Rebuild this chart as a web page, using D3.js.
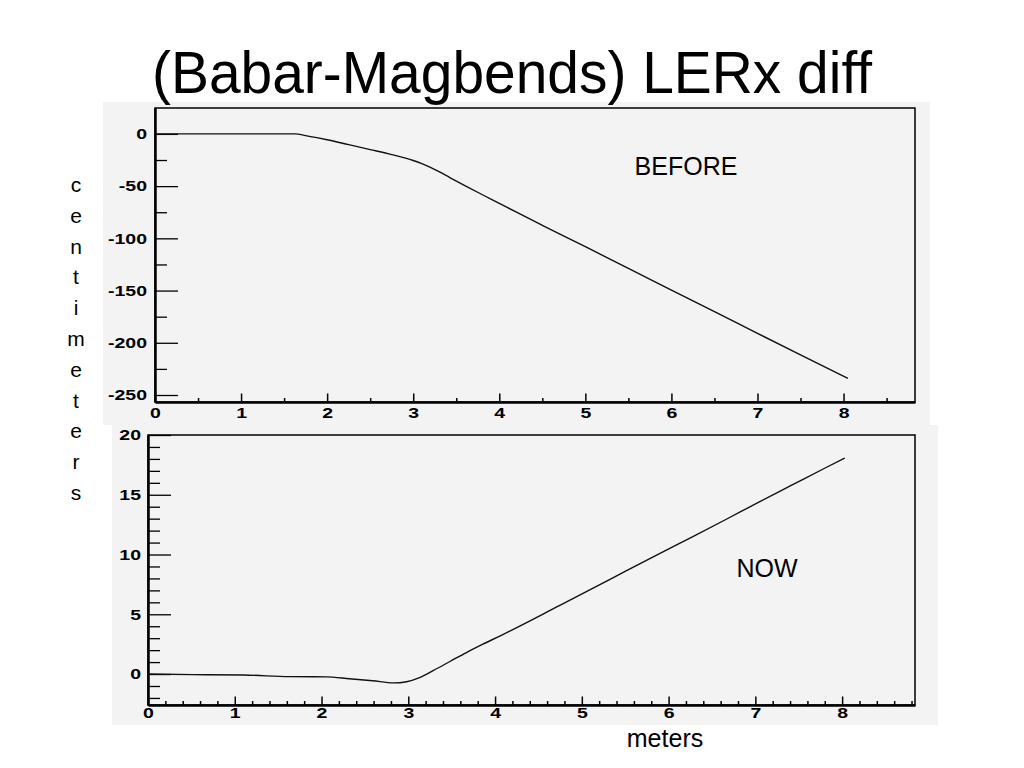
<!DOCTYPE html>
<html>
<head>
<meta charset="utf-8">
<script src="https://cdn.jsdelivr.net/npm/d3@7"></script>
<style>
  html, body { margin: 0; padding: 0; background: #ffffff; }
  svg { display: block; }
  text { font-family: "Liberation Sans", Arial, Helvetica, sans-serif; }
</style>
</head>
<body>
<svg id="chart" width="1024" height="768"></svg>
<script>
// ---------------- data ----------------
const titleText = "(Babar-Magbends) LERx diff";
const yTitleText = "centimeters";
const xTitleText = "meters";

// BEFORE panel: x (meters) vs diff (centimeters)
const beforeX = [0, 0.5, 1.0, 1.5, 1.63, 1.75, 1.88, 2.0, 2.25, 2.5, 2.75, 3.0, 3.1, 3.2, 3.3, 3.43, 3.6, 3.81, 4.0, 4.2, 4.5, 5.0, 5.5, 6.0, 6.5, 7.0, 7.5, 8.05];
const beforeY = [0, 0, 0, 0, 0, -1.6, -3.6, -5.6, -10.3, -15, -19.8, -25.5, -28.5, -32, -36.2, -42, -49.5, -58.5, -66.5, -75, -87.5, -108, -128.8, -149.5, -170.2, -191, -211.6, -234];

// NOW panel
const nowX = [0, 0.52, 1.10, 1.63, 2.05, 2.32, 2.59, 2.83, 2.98, 3.13, 3.29, 3.48, 3.67, 3.86, 4.06, 4.74, 5.13, 5.51, 5.89, 6.28, 6.66, 7.04, 7.43, 7.81, 8.03];
const nowY = [0, -0.05, -0.08, -0.22, -0.24, -0.39, -0.56, -0.74, -0.64, -0.3, 0.3, 1.05, 1.8, 2.5, 3.2, 5.72, 7.18, 8.63, 10.06, 11.5, 12.93, 14.38, 15.84, 17.26, 18.07];

// tick labels / values
const beforeXTicks = [0, 1, 2, 3, 4, 5, 6, 7, 8];
const beforeXMinor = [0.5, 1.5, 2.5, 3.5, 4.5, 5.5, 6.5, 7.5, 8.5];
const beforeYTicks = [0, -50, -100, -150, -200, -250];
const beforeYMinor = [-25, -75, -125, -175, -225];
const nowXTicks = [0, 1, 2, 3, 4, 5, 6, 7, 8];
const nowXMinor = [0.2, 0.4, 0.6, 0.8, 1.2, 1.4, 1.6, 1.8, 2.2, 2.4, 2.6, 2.8, 3.2, 3.4, 3.6, 3.8,
                   4.2, 4.4, 4.6, 4.8, 5.2, 5.4, 5.6, 5.8, 6.2, 6.4, 6.6, 6.8, 7.2, 7.4, 7.6, 7.8,
                   8.2, 8.4, 8.6, 8.8];
const nowYTicks = [0, 5, 10, 15, 20];
const nowYMinor = [-2, -1, 1, 2, 3, 4, 6, 7, 8, 9, 11, 12, 13, 14, 16, 17, 18, 19];

// ---------------- drawing ----------------
const svg = d3.select("#chart");
const LABEL_STRETCH = 1.3;
const LABEL_SIZE = 15;
const fmt = d => String(d);   // plain hyphen-minus, as in the original

function panel(cfg) {
  // pad background
  svg.append("rect")
    .attr("x", cfg.bg[0]).attr("y", cfg.bg[1])
    .attr("width", cfg.bg[2] - cfg.bg[0]).attr("height", cfg.bg[3] - cfg.bg[1])
    .attr("fill", "#f3f3f3");

  const x = d3.scaleLinear().domain(cfg.xDomain).range([cfg.frame.l, cfg.frame.r]);
  const y = d3.scaleLinear().domain(cfg.yDomain).range([cfg.frame.b, cfg.frame.t]);

  // frame
  svg.append("rect")
    .attr("x", cfg.frame.l).attr("y", cfg.frame.t)
    .attr("width", cfg.frame.r - cfg.frame.l).attr("height", cfg.frame.b - cfg.frame.t)
    .attr("fill", "none").attr("stroke", "#000").attr("stroke-width", 1.5);

  // minor x ticks
  svg.append("g")
    .attr("transform", `translate(0,${cfg.frame.b})`)
    .call(d3.axisBottom(x).tickValues(cfg.xMinor.filter(v => v <= cfg.xDomain[1])).tickSize(-4).tickFormat(""))
    .call(g => g.select(".domain").remove())
    .call(g => g.selectAll("line").attr("stroke", "#000").attr("stroke-width", 1.5));

  // major x axis
  const gx = svg.append("g")
    .attr("transform", `translate(0,${cfg.frame.b})`)
    .call(d3.axisBottom(x).tickValues(cfg.xTicks).tickFormat(fmt).tickSize(-8.5).tickPadding(cfg.xPad).tickSizeOuter(0));
  gx.select(".domain").attr("stroke", "#000").attr("stroke-width", 2.5);
  gx.selectAll("line").attr("stroke", "#000").attr("stroke-width", 1.5);
  gx.selectAll("text")
    .attr("fill", "#000").attr("font-size", LABEL_SIZE).attr("font-weight", "bold")
    .attr("font-family", "'Liberation Sans', Arial, sans-serif")
    .attr("transform", `scale(${LABEL_STRETCH},1)`);

  // minor y ticks
  svg.append("g")
    .attr("transform", `translate(${cfg.frame.l},0)`)
    .call(d3.axisLeft(y).tickValues(cfg.yMinor).tickSize(-12).tickFormat(""))
    .call(g => g.select(".domain").remove())
    .call(g => g.selectAll("line").attr("stroke", "#000").attr("stroke-width", 1.3));

  // major y axis
  const gy = svg.append("g")
    .attr("transform", `translate(${cfg.frame.l},0)`)
    .call(d3.axisLeft(y).tickValues(cfg.yTicks).tickFormat(fmt).tickSize(-23).tickPadding(cfg.yPad).tickSizeOuter(0));
  gy.select(".domain").attr("stroke", "#000").attr("stroke-width", 2.5);
  gy.selectAll("line").attr("stroke", "#000").attr("stroke-width", 1.3);
  gy.selectAll("text")
    .attr("fill", "#000").attr("font-size", LABEL_SIZE).attr("font-weight", "bold")
    .attr("font-family", "'Liberation Sans', Arial, sans-serif")
    .attr("x", -cfg.yPad / LABEL_STRETCH)
    .attr("transform", `scale(${LABEL_STRETCH},1)`);

  // data line
  const line = d3.line().x(d => x(d[0])).y(d => y(d[1])).curve(d3.curveMonotoneX);
  svg.append("path")
    .datum(d3.zip(cfg.xs, cfg.ys))
    .attr("d", line)
    .attr("fill", "none").attr("stroke", "#111").attr("stroke-width", 1.4);

  // label
  svg.append("text")
    .attr("x", cfg.label.x).attr("y", cfg.label.y)
    .attr("text-anchor", "middle").attr("font-size", 25)
    .attr("fill", "#000")
    .text(cfg.label.text);
}

panel({
  bg: [103, 102, 930, 425],
  frame: { l: 155, r: 915, t: 108, b: 402 },
  xDomain: [0, 8.83], yDomain: [-256.7, 24.8],
  xTicks: beforeXTicks, xMinor: beforeXMinor,
  yTicks: beforeYTicks, yMinor: beforeYMinor,
  xPad: 5, yPad: 8,
  xs: beforeX, ys: beforeY,
  label: { x: 686, y: 175, text: "BEFORE" }
});

panel({
  bg: [112, 425, 938, 725],
  frame: { l: 148, r: 915, t: 435, b: 705 },
  xDomain: [0, 8.84], yDomain: [-2.59, 20],
  xTicks: nowXTicks, xMinor: nowXMinor,
  yTicks: nowYTicks, yMinor: nowYMinor,
  xPad: 2, yPad: 7,
  xs: nowX, ys: nowY,
  label: { x: 767, y: 577, text: "NOW" }
});

// title
svg.append("text")
  .attr("x", 512).attr("y", 93)
  .attr("text-anchor", "middle")
  .attr("font-size", 60)
  .attr("fill", "#000")
  .attr("textLength", 720).attr("lengthAdjust", "spacingAndGlyphs")
  .text(titleText);

// vertical y title, one letter per line
const yt = svg.append("text")
  .attr("x", 76).attr("y", 192)
  .attr("text-anchor", "middle")
  .attr("font-size", 21)
  .attr("fill", "#000");
yt.selectAll("tspan")
  .data(yTitleText.split(""))
  .join("tspan")
  .attr("x", 76)
  .attr("dy", (d, i) => i === 0 ? 0 : 30.8)
  .text(d => d);

// x title
svg.append("text")
  .attr("x", 665).attr("y", 747)
  .attr("text-anchor", "middle")
  .attr("font-size", 25)
  .attr("fill", "#000")
  .text(xTitleText);
</script>
</body>
</html>
